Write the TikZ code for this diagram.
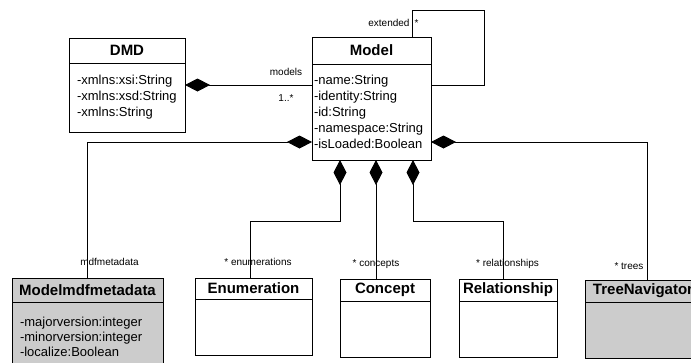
\documentclass[tikz,border=0pt]{standalone}
\usepackage{fontspec}
\setmainfont{Liberation Sans}
\usetikzlibrary{arrows.meta,positioning}
\definecolor{ink}{HTML}{000000}
\definecolor{umlgray}{HTML}{CCCCCC}
\tikzset{
  head/.style={rectangle,draw=ink,fill=white,line width=1pt,outer sep=0pt,inner sep=0pt,
               font=\fontsize{15pt}{18pt}\selectfont\bfseries,anchor=north west},
  body/.style={rectangle,draw=ink,fill=white,line width=1pt,outer sep=0pt,inner xsep=8pt,inner ysep=0pt,
               align=left,font=\fontsize{13pt}{16pt}\selectfont},
  grayh/.style={head,fill=umlgray},
  grayb/.style={body,fill=umlgray},
  comp/.style={-{Diamond[length=25pt,width=13pt]},line width=1pt,draw=ink},
  assoc/.style={line width=1pt,draw=ink},
  lbl/.style={font=\fontsize{10pt}{12pt}\selectfont,text=ink,inner sep=1pt},
}
\begin{document}
\begin{tikzpicture}[x=1pt,y=-1pt]
\useasboundingbox (0,0) rectangle (691,362);
\node[head, minimum width=116pt, minimum height=25pt] (dmd) at (69,38) {DMD};
\node[body, text width=100pt, minimum height=69pt, below=0pt of dmd] (dmdattr) {-xmlns:xsi:String\\-xmlns:xsd:String\\-xmlns:String};
\node[head, minimum width=119pt, minimum height=27pt] (model) at (312,37) {Model};
\node[body, inner xsep=2pt, text width=115pt, minimum height=96pt, below=0pt of model] (modelattr) {-name:String\\-identity:String\\-id:String\\-namespace:String\\-isLoaded:Boolean};
\node[grayh, minimum width=151pt, minimum height=24pt] (meta) at (12,278) {Modelmdfmetadata};
\node[grayb, font=\fontsize{13pt}{15pt}\selectfont, text width=135pt, minimum height=70pt, below=0pt of meta] (metaattr) {-majorversion:integer\\-minorversion:integer\\-localize:Boolean};
\node[head, minimum width=117pt, minimum height=21pt] (enum) at (195,278) {Enumeration};
\node[body, minimum width=117pt, minimum height=56pt, below=0pt of enum] (enumattr) {};
\node[head, minimum width=90pt, minimum height=22pt] (concept) at (340,279) {Concept};
\node[body, minimum width=90pt, minimum height=56pt, below=0pt of concept] (conceptattr) {};
\node[head, minimum width=98pt, minimum height=22pt] (rel) at (459,279) {Relationship};
\node[body, minimum width=98pt, minimum height=56pt, below=0pt of rel] (relattr) {};
\node[grayh, minimum width=116pt, minimum height=22pt] (tree) at (585,280) {TreeNavigator};
\node[grayb, minimum width=116pt, minimum height=56pt, below=0pt of tree] (treeattr) {};
\draw[comp] ([yshift=27pt]modelattr.west) node[lbl,xshift=-26pt,yshift=13pt]{models} node[lbl,xshift=-26pt,yshift=-13pt]{1..*}
  -- ([yshift=27pt]modelattr.west -| dmdattr.east);
\draw[assoc] ([xshift=-19pt]model.north east) node[lbl,anchor=east,xshift=-1pt,yshift=14pt]{extended} node[lbl,anchor=west,xshift=1pt,yshift=14pt]{*}
  -- ++(0,-27) -- ++(72,0) |- ([yshift=27pt]modelattr.east);
\draw[comp] (meta.north) node[lbl,xshift=22pt,yshift=16pt]{mdfmetadata} |- ([yshift=-30pt]modelattr.west);
\draw[comp] ([xshift=-3.5pt]enum.north) node[lbl,xshift=8pt,yshift=16pt]{* enumerations} -- ++(0,-57) -| ([xshift=28pt]modelattr.south west);
\draw[comp] ([xshift=-9pt]concept.north) node[lbl,yshift=15pt]{* concepts} -- ([xshift=-9pt]concept.north |- modelattr.south);
\draw[comp] ([xshift=-5pt]rel.north) node[lbl,xshift=4.5pt,yshift=15pt]{* relationships} -- ++(0,-58) -| ([xshift=101pt]modelattr.south west);
\draw[comp] ([xshift=62pt]tree.north west) node[lbl,xshift=-18pt,yshift=14pt]{* trees} |- ([yshift=-30pt]modelattr.east);
\end{tikzpicture}
\end{document}
